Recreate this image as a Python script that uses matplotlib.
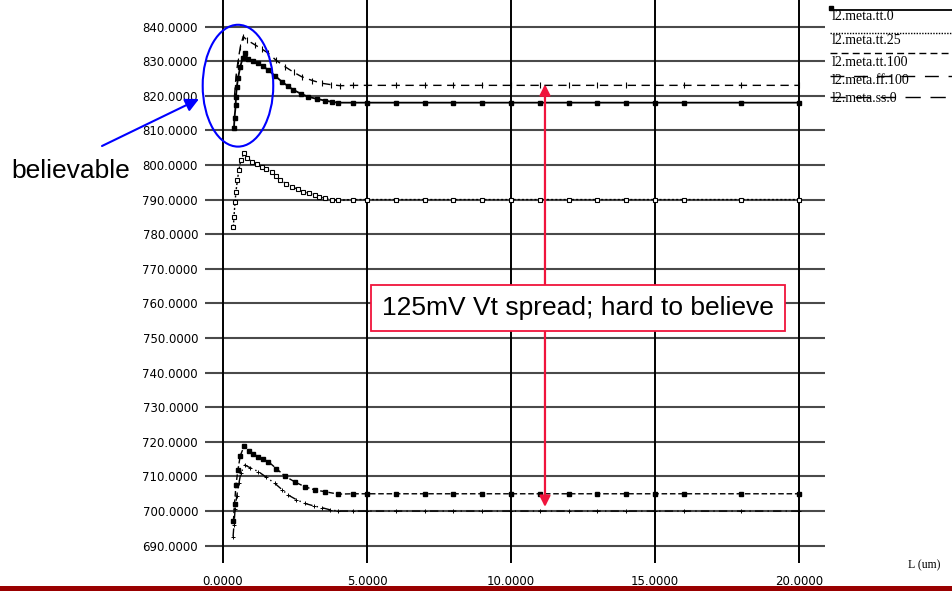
import numpy as np
import matplotlib
matplotlib.use("Agg")
import matplotlib.pyplot as plt
from matplotlib.patches import Ellipse, Rectangle
from matplotlib.lines import Line2D

# flat tail shared by all curves (L in um)
tail_x = [4.5, 5, 6, 7, 8, 9, 10, 11, 12, 13, 14, 15, 16, 18, 20]

# l2.meta.tt.0 -> settles at 818
tt0_x = [0.38, 0.40, 0.44, 0.45, 0.48, 0.52, 0.60, 0.68, 0.76, 0.88, 1.05, 1.23, 1.40,
         1.57, 1.80, 2.04, 2.25, 2.44, 2.70, 2.96, 3.25, 3.54, 3.80, 4.0] + tail_x
tt0_y = [810.7, 813.6, 817.3, 819.7, 822.6, 825.0, 828.4, 830.8, 832.3, 830.5, 829.9, 829.4, 828.5,
         827.4, 825.8, 824.1, 822.8, 821.7, 820.6, 819.7, 819.1, 818.6, 818.2, 818.0] + [818.0] * len(tail_x)

# l2.meta.tt.25 -> settles at 790
tt25_x = [0.36, 0.38, 0.42, 0.45, 0.50, 0.55, 0.62, 0.74, 0.85, 1.0, 1.17, 1.34, 1.51,
          1.69, 1.84, 1.98, 2.2, 2.39, 2.6, 2.79, 3.0, 3.19, 3.35, 3.54, 3.8, 4.0] + tail_x
tt25_y = [782.2, 785.0, 789.4, 792.3, 795.6, 798.5, 801.4, 803.5, 802.0, 800.9, 800.2, 799.5, 798.8,
          798.0, 796.8, 795.6, 794.6, 793.7, 793.0, 792.3, 791.8, 791.3, 790.8, 790.4, 790.0, 789.8] + [790.0] * len(tail_x)

# l2.meta.tt.100 -> settles at 823
tt100_x = [0.40, 0.45, 0.52, 0.60, 0.70, 0.85, 1.11, 1.35, 1.57, 1.85, 2.15, 2.45, 2.73,
           3.1, 3.43, 3.75, 4.07] + tail_x
tt100_y = [820.0, 825.5, 830.0, 834.0, 837.1, 836.0, 834.7, 833.5, 832.3, 830.2, 828.4, 826.8, 825.5,
           824.4, 823.6, 823.2, 822.9] + [823.0] * len(tail_x)

# l2.meta.ff.100 -> settles at 705
ff100_x = [0.36, 0.40, 0.45, 0.52, 0.60, 0.74, 0.90, 1.05, 1.22, 1.40, 1.57, 1.85, 2.15,
           2.50, 2.85, 3.2, 3.54, 4.0] + tail_x
ff100_y = [697.0, 702.0, 707.5, 712.0, 716.0, 718.9, 717.5, 716.6, 715.7, 715.0, 714.3, 712.3, 710.1,
           708.4, 707.0, 706.1, 705.6, 704.9] + [705.0] * len(tail_x)

# l2.meta.ss.0 -> settles at 700
ss0_x = [0.35, 0.38, 0.42, 0.48, 0.55, 0.62, 0.76, 0.95, 1.23, 1.50, 1.80, 2.05, 2.27,
         2.55, 2.85, 3.15, 3.43, 3.7, 4.0] + tail_x
ss0_y = [692.6, 696.0, 700.5, 704.5, 708.0, 711.0, 713.3, 712.5, 711.4, 709.8, 708.0, 706.2, 704.6,
         703.3, 702.2, 701.5, 701.0, 700.4, 700.0] + [700.0] * len(tail_x)

legend_labels = ["l2.meta.tt.0", "l2.meta.tt.25", "l2.meta.tt.100", "l2.meta.ff.100", "l2.meta.ss.0"]

W, H = 952, 591
fig = plt.figure(figsize=(W / 100, H / 100), dpi=100)
ax = fig.add_axes([205 / W, 28 / H, 620 / W, 563 / H])

ax.set_xlim(-0.625, 20.903)
ax.set_ylim(685.0, 847.66)
for s in ax.spines.values():
    s.set_visible(False)

# grid
yt = np.arange(690, 841, 10)
xt = [0, 5, 10, 15, 20]
ax.set_yticks(yt)
ax.set_yticklabels(["%.4f" % v for v in yt])
ax.set_xticks(xt)
ax.set_xticklabels(["%.4f" % v for v in xt])
for v in yt:
    ax.axhline(v, color="#4a4a4a", lw=1.5, zorder=1)
for v in xt:
    ax.axvline(v, color="black", lw=1.4, zorder=1)
ax.tick_params(length=0, labelsize=8.5)
ax.tick_params(axis="y", pad=5)
ax.tick_params(axis="x", pad=8.5)

# curves
ax.plot(tt0_x, tt0_y, color="black", lw=1.3, marker="s", ms=3.0, zorder=3)
ax.plot(tt25_x, tt25_y, color="black", lw=1.0, ls=(0, (1.5, 1.5)), marker="s", ms=3.5,
        mfc="white", mew=0.8, zorder=3)
ax.plot(tt100_x, tt100_y, color="black", lw=1.0, ls=(0, (6, 4)), marker="|", ms=4, mew=0.8, zorder=3)
ax.plot(ff100_x, ff100_y, color="black", lw=1.0, ls=(0, (4, 2)), marker="s", ms=2.3, zorder=3)
ax.plot(ss0_x, ss0_y, color="black", lw=1.0, ls=(0, (6, 3, 1, 3)), marker="+", ms=3.5, mew=0.7, zorder=3)

# blue ellipse around the first curve
ax.add_patch(Ellipse((0.52, 822.9), 2.45, 35.2, fill=False, ec="blue", lw=1.5, zorder=5, clip_on=False))

# red double arrow across the spread
ax.annotate("", xy=(11.18, 823.3), xytext=(11.18, 701.2),
            arrowprops=dict(arrowstyle="<|-|>", color="#f0143c", lw=1.6, mutation_scale=16,
                            shrinkA=0, shrinkB=0), zorder=6)
ax.text(12.33, 758.7, "125mV Vt spread; hard to believe", ha="center", va="center",
        fontsize=19, family="Liberation Sans", zorder=7,
        bbox=dict(boxstyle="square,pad=0.42", fc="white", ec="#f0143c", lw=1.3))

# "believable" callout
fig.text(11 / W, 413 / H, "believable", fontsize=19, family="Liberation Sans", va="baseline")
ax.annotate("", xy=(199, H - 99), xytext=(102, H - 146), xycoords="figure pixels",
            textcoords="figure pixels",
            arrowprops=dict(arrowstyle="-|>", color="blue", lw=1.5, mutation_scale=20,
                            shrinkA=0, shrinkB=0))

# legend (label under its line sample)
leg_styles = [dict(ls="-", lw=1.3), dict(ls=(0, (1, 1)), lw=1.0), dict(ls=(0, (5, 3)), lw=1.0),
              dict(ls=(0, (10, 7)), lw=1.0), dict(ls=(0, (11, 7)), lw=1.0)]
line_y = [10, 33, 53, 76, 97]
text_y = [16, 40, 62, 81, 99]
for lab, st, ly, ty in zip(legend_labels, leg_styles, line_y, text_y):
    fig.add_artist(Line2D([830 / W, 1.0], [1 - ly / H] * 2, color="black", **st))
    fig.text(832 / W, 1 - ty / H, lab, fontsize=10, family="Liberation Serif", va="center")
fig.add_artist(Line2D([831 / W], [1 - 8 / H], marker="s", ms=3, color="black"))

fig.text(908 / W, 26 / H, "L (um)", fontsize=8.5, family="Liberation Serif", va="center")

# dark red bar along the bottom
fig.add_artist(Rectangle((0, 0), 1, 5 / H, transform=fig.transFigure, color="#990000", lw=0))

fig.savefig("out.png", dpi=100)
